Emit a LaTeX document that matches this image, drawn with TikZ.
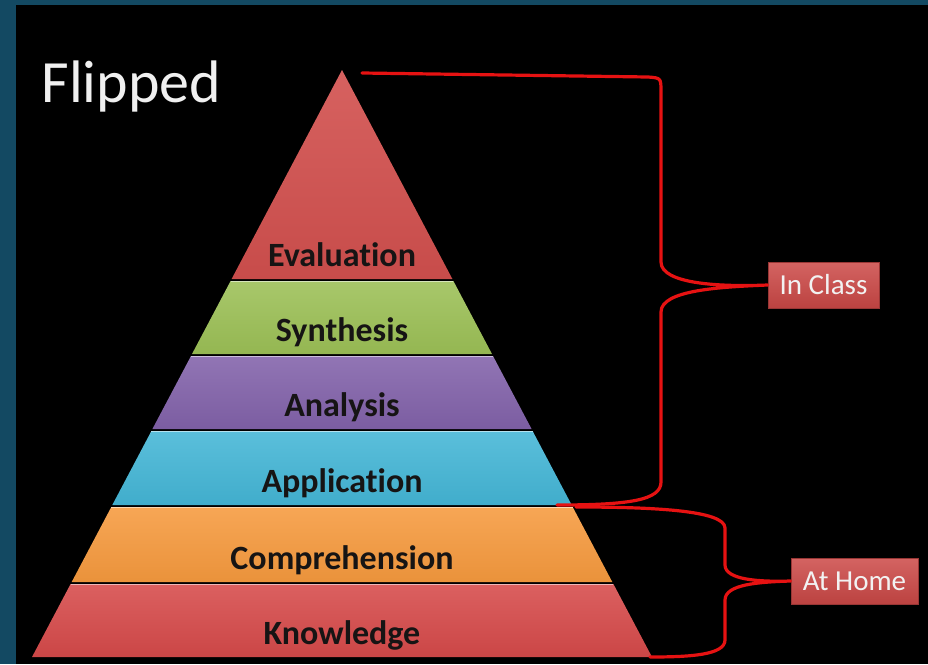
\documentclass[tikz,border=0pt]{standalone}
\usepackage{fontspec}
\setmainfont{Carlito}[Ligatures=NoCommon]

\definecolor{slideblue}{RGB}{19,73,98}
\definecolor{evalred}{RGB}{210,80,78}
\definecolor{synthgreen}{RGB}{156,192,86}
\definecolor{analpurple}{RGB}{130,98,170}
\definecolor{applaqua}{RGB}{68,182,214}
\definecolor{comporange}{RGB}{246,154,62}
\definecolor{knowred}{RGB}{214,74,74}
\definecolor{labeltext}{RGB}{22,20,20}
\definecolor{bracered}{RGB}{230,18,18}
\definecolor{tagred}{RGB}{204,72,70}

\tikzset{
  levellabel/.style={anchor=base, text=labeltext, font=\fontsize{34}{38}\selectfont\bfseries},
  tagbox/.style={draw=tagred!75!black, line width=0.8pt, top color=tagred!85!white, bottom color=tagred!92!black,
    text=white!95!black, font=\fontsize{29}{32}\selectfont, minimum height=46pt, inner sep=0pt},
  brace/.style={draw=bracered, line width=3.2pt, line cap=round, line join=round}
}

\begin{document}
\begin{tikzpicture}[x=1pt,y=-1pt]
  \useasboundingbox (0,0) rectangle (928,664);
  \fill[slideblue] (0,0) rectangle (928,664);   % slide frame
  \fill[black] (16,5) rectangle (928,664);

  \node[anchor=base west, text=white!94!black, font=\fontsize{60}{66}\selectfont] (title) at (38,102) {Flipped};

  % the six levels of the pyramid
  \shade[top color=evalred!90!white, bottom color=evalred!95!black] (342,70) -- (452.4,279) -- (231.6,279) -- cycle;
  \node[levellabel] (evaluation) at (342,266) {Evaluation};

  \shade[top color=synthgreen!88!white, bottom color=synthgreen!95!black] (230.6,281) -- (453.4,281) -- (492,354) -- (192,354) -- cycle;
  \draw[synthgreen!40!white, line width=1.5pt] (230.6,281.7) -- (453.4,281.7);
  \node[levellabel] (synthesis) at (342,341) {Synthesis};

  \shade[top color=analpurple!88!white, bottom color=analpurple!95!black] (191,356) -- (493,356) -- (531.6,429) -- (152.4,429) -- cycle;
  \draw[analpurple!40!white, line width=1.5pt] (191,356.7) -- (493,356.7);
  \node[levellabel] (analysis) at (342,416) {Analysis};

  \shade[top color=applaqua!88!white, bottom color=applaqua!95!black] (151.4,431) -- (532.6,431) -- (571.7,505) -- (112.3,505) -- cycle;
  \draw[applaqua!40!white, line width=1.5pt] (151.4,431.7) -- (532.6,431.7);
  \node[levellabel] (application) at (342,492) {Application};

  \shade[top color=comporange!88!white, bottom color=comporange!95!black] (111.3,507) -- (572.7,507) -- (612.3,582) -- (71.7,582) -- cycle;
  \draw[comporange!40!white, line width=1.5pt] (111.3,507.7) -- (572.7,507.7);
  \node[levellabel] (comprehension) at (342,569) {Comprehension};

  \shade[top color=knowred!88!white, bottom color=knowred!95!black] (70.6,584) -- (613.4,584) -- (652,657) -- (32,657) -- cycle;
  \draw[knowred!40!white, line width=1.5pt] (70.6,584.7) -- (613.4,584.7);
  \node[levellabel] (knowledge) at (342,644) {Knowledge};

  % tags on the right
  \node[tagbox, minimum width=111pt] (inclass) at (823.5,285) {In Class};
  \node[tagbox, minimum width=127pt] (athome) at (854.5,581) {At Home};

  \coordinate (ictop) at (362,73);
  \coordinate (icbot) at (557,505);
  \coordinate (ahtop) at (576,507);
  \coordinate (ahbot) at (650,657);

  % braces
  \draw[brace] (ictop) -- (648,77) .. controls (661,78) .. (661,92) -- (661,262)
    .. controls (661,284) and (720,287) .. (inclass.west)
    .. controls (720,287) and (661,290) .. (661,312) -- (661,482)
    .. controls (661,500) and (630,505) .. (icbot);
  \draw[brace] (ahtop) .. controls (650,507) and (725,510) .. (725,528) -- (725,565)
    .. controls (725,580) and (760,582) .. (athome.west)
    .. controls (760,582) and (725,584) .. (725,600) -- (725,640)
    .. controls (725,655) and (690,657) .. (ahbot);
\end{tikzpicture}
\end{document}
